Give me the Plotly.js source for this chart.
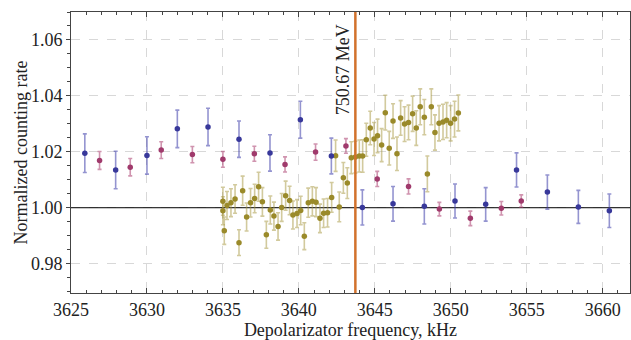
<!DOCTYPE html>
<html>
<head>
<meta charset="utf-8">
<script src="https://cdn.plot.ly/plotly-3.0.1.min.js"></script>
<style>html,body{margin:0;padding:0;background:#fff;}#chart{width:631px;height:340px;}</style>
</head>
<body>
<div id="chart"></div>
<script>
// Blue series
const blueFreq = [3625.91, 3627.94, 3630.0, 3632.0, 3634.02, 3636.06, 3638.1, 3640.1, 3642.14, 3644.18, 3646.2, 3648.26, 3650.28, 3652.3, 3654.33, 3656.36, 3658.4, 3660.44];
const blueRate = [1.0195, 1.0135, 1.0187, 1.0282, 1.0289, 1.0245, 1.0196, 1.0315, 1.0185, 1.0001, 1.0014, 1.0005, 1.0024, 1.0012, 1.0135, 1.0056, 1.0003, 0.9989];
const blueErr  = [0.0069, 0.0067, 0.0067, 0.0067, 0.0067, 0.0065, 0.0065, 0.0066, 0.0064, 0.0063, 0.0062, 0.0063, 0.0061, 0.0060, 0.0061, 0.0061, 0.0059, 0.0060];

// Magenta series
const magFreq = [3626.88, 3628.9, 3630.94, 3632.99, 3635.0, 3637.07, 3639.09, 3641.1, 3643.1, 3645.16, 3647.22, 3649.25, 3651.29, 3653.33, 3654.64];
const magRate = [1.0169, 1.0145, 1.0206, 1.0190, 1.0173, 1.0193, 1.0155, 1.0199, 1.0221, 1.0103, 1.0076, 0.9995, 0.9962, 0.9998, 1.0024];
const magErr  = [0.0032, 0.0031, 0.0030, 0.0029, 0.0028, 0.0027, 0.0027, 0.0029, 0.0026, 0.0027, 0.0027, 0.0024, 0.0026, 0.0024, 0.0022];

// Olive (dense scan) series
const oliveFreq = [3635.00, 3635.00, 3635.09, 3635.27, 3635.53, 3635.80, 3636.06, 3636.30, 3636.56, 3636.82,
                   3637.09, 3637.35, 3637.60, 3637.86, 3638.12, 3638.36, 3638.63, 3638.87, 3639.13, 3639.39,
                   3639.61, 3639.88, 3640.12, 3640.36, 3640.62, 3640.89, 3641.13, 3641.39, 3641.63, 3641.89,
                   3642.16, 3642.42, 3642.66, 3642.93, 3643.19, 3643.45, 3643.72, 3643.98, 3644.20, 3644.44,
                   3644.70, 3644.95, 3645.18, 3645.45, 3645.69, 3645.95, 3646.20, 3646.46, 3646.70, 3646.96,
                   3647.22, 3647.49, 3647.73, 3647.99, 3648.26, 3648.46, 3648.72, 3648.96, 3649.23, 3649.49,
                   3649.73, 3649.99, 3650.25, 3650.50];
const oliveRate = [1.0023, 0.9989, 0.9918, 1.0008, 1.0018, 1.0031, 0.9875, 1.0061, 0.9967, 1.0018,
                   1.0033, 1.0075, 1.0021, 0.9903, 0.9992, 0.9970, 0.9933, 1.0001, 1.0043, 1.0026,
                   0.9974, 0.9979, 0.9990, 0.9898, 1.0018, 1.0023, 1.0020, 0.9962, 0.9980, 0.9982,
                   1.0037, 1.0186, 1.0003, 1.0107, 1.0088, 1.0179, 1.0181, 1.0185, 1.0185, 1.0243,
                   1.0285, 1.0246, 1.0257, 1.0224, 1.0340, 1.0213, 1.0310, 1.0193, 1.0321, 1.0299,
                   1.0305, 1.0336, 1.0285, 1.0361, 1.0324, 1.0121, 1.0361, 1.0269, 1.0302, 1.0307,
                   1.0313, 1.0302, 1.0317, 1.0339];
const oliveErr  = [0.0050, 0.0050, 0.0049, 0.0050, 0.0050, 0.0051, 0.0046, 0.0052, 0.0050, 0.0051,
                   0.0051, 0.0052, 0.0051, 0.0048, 0.0050, 0.0050, 0.0049, 0.0050, 0.0052, 0.0051,
                   0.0050, 0.0050, 0.0051, 0.0048, 0.0052, 0.0052, 0.0052, 0.0051, 0.0051, 0.0051,
                   0.0053, 0.0056, 0.0053, 0.0055, 0.0055, 0.0057, 0.0057, 0.0057, 0.0058, 0.0059,
                   0.0060, 0.0059, 0.0060, 0.0059, 0.0062, 0.0060, 0.0062, 0.0060, 0.0062, 0.0062,
                   0.0062, 0.0063, 0.0062, 0.0064, 0.0063, 0.0064, 0.0064, 0.0063, 0.0063, 0.0063,
                   0.0063, 0.0063, 0.0064, 0.0064];

const xRange = [3625, 3661.8];
const yRange = [0.9695, 1.07];
const baseline = 1.00;
const resonanceFreq = 3643.72;
const resonanceLabel = '750.67 MeV';
const xTitle = 'Depolarizator frequency, kHz';
const yTitle = 'Normalized counting rate';

const FONT = '"Liberation Serif", "Times New Roman", serif';

function series(x, y, e, color, errColor) {
  return {
    type: 'scatter', mode: 'markers', x: x, y: y,
    marker: {color: color, size: 5.5},
    error_y: {type: 'data', array: e, visible: true, color: errColor, thickness: 1.6, width: 2},
    showlegend: false, hoverinfo: 'x+y'
  };
}

const traces = [
  {type: 'scatter', mode: 'lines', x: xRange, y: [baseline, baseline],
   line: {color: '#000', width: 1}, showlegend: false, hoverinfo: 'skip'},
  series(oliveFreq, oliveRate, oliveErr, '#9a8a2a', 'rgba(165,150,60,0.5)'),
  series(magFreq, magRate, magErr, '#a03a6c', 'rgba(170,60,110,0.55)'),
  series(blueFreq, blueRate, blueErr, '#38389a', 'rgba(60,60,170,0.55)')
];

const layout = {
  width: 631, height: 340,
  margin: {l: 71, r: 1, t: 12, b: 47, pad: 0},
  paper_bgcolor: '#ffffff', plot_bgcolor: '#ffffff',
  font: {family: FONT, size: 18, color: '#222'},
  xaxis: {
    range: xRange, tick0: 3625, dtick: 5,
    showline: true, mirror: 'ticks', linecolor: '#444', linewidth: 1,
    ticks: 'inside', ticklen: 5, tickcolor: '#444',
    minor: {dtick: 1, ticks: 'inside', ticklen: 3, tickcolor: '#444', showgrid: false},
    showgrid: true, gridcolor: '#d8d8d8', griddash: 'dash', gridwidth: 1,
    zeroline: false, tickfont: {family: FONT, size: 18, color: '#222'},
    title: {text: xTitle, font: {family: FONT, size: 18, color: '#222'}, standoff: 6},
    automargin: false
  },
  yaxis: {
    range: yRange, tick0: 0.98, dtick: 0.02, tickformat: '.2f',
    showline: true, mirror: 'ticks', linecolor: '#444', linewidth: 1,
    ticks: 'outside', ticklen: 4, tickcolor: '#444',
    minor: {dtick: 0.005, ticks: 'outside', ticklen: 3, tickcolor: '#444', showgrid: false},
    showgrid: true, gridcolor: '#d8d8d8', griddash: 'dash', gridwidth: 1,
    zeroline: false, tickfont: {family: FONT, size: 18, color: '#222'},
    automargin: false
  },
  shapes: [
    {type: 'line', xref: 'x', x0: resonanceFreq, x1: resonanceFreq, yref: 'paper', y0: 0, y1: 1,
     line: {color: '#d2722c', width: 2.5}, layer: 'above'}
  ],
  annotations: [
    {x: resonanceFreq, xref: 'x', y: 1.0493, yref: 'y', text: resonanceLabel, textangle: -90,
     showarrow: false, xanchor: 'right', yanchor: 'middle', xshift: 0,
     font: {family: FONT, size: 18, color: '#222'}},
    {x: 0, xref: 'paper', y: 0.5, yref: 'paper', text: yTitle, textangle: -90,
     showarrow: false, xanchor: 'center', yanchor: 'middle', xshift: -51,
     font: {family: FONT, size: 18, color: '#222'}}
  ]
};

Plotly.newPlot('chart', traces, layout, {staticPlot: true, displayModeBar: false});
</script>
</body>
</html>
